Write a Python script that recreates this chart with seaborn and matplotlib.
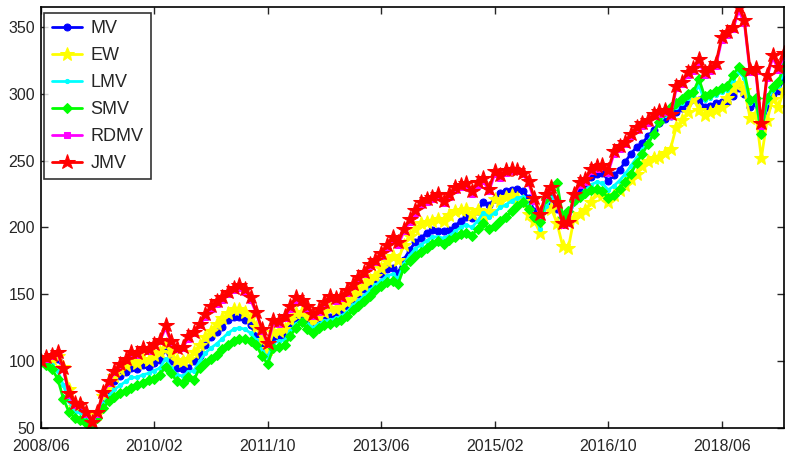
import numpy as np
import pandas as pd
import seaborn as sns
import matplotlib
matplotlib.use("Agg")
import matplotlib.pyplot as plt

# tick labels on the date axis (one point per month, 2008/06 .. 2019/05)
tick_months = [0, 20, 40, 60, 80, 100, 120]
tick_labels = ["2008/06", "2010/02", "2011/10", "2013/06", "2015/02", "2016/10", "2018/06"]

mv = [100, 99, 100, 102, 95, 77, 65, 66, 60, 53, 59, 71, 77, 85, 89, 92, 95, 94, 97, 96,
      99, 101, 109, 100, 95, 94, 95, 100, 104, 112, 118, 122, 126, 131, 133, 133, 131, 127, 119, 112,
      108, 118, 119, 120, 127, 131, 133, 131, 128, 130, 132, 133, 135, 137, 141, 146, 150, 154, 157, 161,
      165, 169, 170, 166, 176, 183, 189, 192, 196, 198, 197, 197, 198, 201, 205, 208, 207, 212, 219, 217,
      221, 226, 227, 228, 229, 227, 222, 212, 206, 218, 222, 214, 208, 206, 220, 228, 232, 238, 240, 241,
      235, 239, 243, 249, 255, 260, 263, 268, 273, 278, 281, 283, 286, 289, 293, 296, 295, 290, 291, 293,
      294, 294, 298, 304, 300, 290, 293, 270, 290, 300, 303, 311]

ew = [100, 100, 102, 104, 96, 79, 66, 68, 61, 54, 61, 74, 80, 89, 94, 97, 100, 99, 102, 101,
      105, 107, 113, 106, 101, 100, 102, 107, 112, 118, 123, 128, 132, 136, 139, 139, 137, 133, 126, 116,
      109, 122, 123, 124, 131, 136, 137, 134, 130, 134, 137, 140, 139, 141, 144, 149, 153, 157, 161, 164,
      170, 175, 179, 176, 187, 194, 199, 203, 204, 205, 206, 205, 209, 212, 213, 214, 210, 213, 209, 212,
      221, 220, 223, 224, 222, 220, 210, 205, 196, 215, 214, 203, 186, 185, 207, 210, 213, 219, 226, 224,
      219, 224, 228, 232, 236, 240, 246, 250, 252, 253, 256, 259, 275, 280, 286, 296, 288, 284, 286, 288,
      290, 297, 304, 308, 303, 282, 285, 252, 280, 296, 290, 303]

lmv = [100, 98, 97, 93, 82, 70, 62, 62, 58, 52, 59, 68, 74, 79, 82, 85, 88, 88, 90, 91,
       93, 95, 102, 95, 90, 89, 92, 93, 100, 106, 110, 113, 117, 121, 124, 125, 124, 121, 116, 108,
       103, 114, 115, 116, 123, 128, 131, 128, 125, 128, 130, 131, 132, 134, 137, 142, 145, 149, 153, 157,
       160, 164, 165, 162, 173, 179, 184, 187, 190, 193, 193, 192, 194, 197, 200, 202, 200, 205, 211, 208,
       211, 215, 217, 220, 222, 223, 217, 209, 199, 216, 222, 220, 205, 207, 219, 224, 228, 232, 234, 233,
       228, 231, 235, 240, 246, 252, 258, 264, 271, 278, 284, 287, 290, 293, 297, 299, 306, 295, 297, 299,
       301, 303, 310, 316, 312, 293, 295, 270, 294, 303, 306, 316]

smv = [100, 97, 94, 87, 72, 62, 58, 56, 54, 50, 58, 65, 70, 73, 76, 78, 80, 82, 84, 86,
       87, 90, 96, 91, 85, 84, 88, 86, 95, 99, 102, 105, 109, 112, 115, 117, 117, 115, 112, 104,
       98, 110, 111, 112, 119, 125, 129, 124, 121, 125, 127, 128, 129, 131, 134, 138, 141, 145, 149, 153,
       156, 159, 160, 158, 170, 175, 179, 182, 185, 188, 190, 188, 191, 193, 195, 196, 194, 199, 203, 199,
       201, 205, 208, 212, 216, 219, 214, 208, 204, 222, 228, 233, 208, 212, 220, 223, 226, 228, 229, 227,
       222, 224, 229, 234, 240, 248, 255, 262, 270, 279, 287, 290, 293, 296, 300, 301, 311, 298, 300, 302,
       304, 306, 314, 320, 316, 295, 297, 270, 297, 305, 309, 321]

rdmv = [100, 102, 104, 106, 94, 75, 67, 67, 61, 55, 61, 76, 84, 92, 97, 101, 106, 105, 109, 108,
        112, 115, 125, 114, 109, 110, 117, 121, 127, 133, 139, 143, 146, 150, 153, 155, 152, 146, 136, 123,
        113, 129, 128, 132, 139, 146, 144, 139, 134, 137, 142, 147, 145, 147, 151, 156, 161, 165, 171, 174,
        179, 185, 191, 187, 197, 204, 211, 217, 219, 221, 223, 218, 223, 228, 230, 231, 225, 232, 235, 227,
        240, 237, 241, 242, 242, 240, 233, 220, 209, 224, 229, 218, 202, 203, 224, 232, 234, 242, 244, 245,
        241, 255, 259, 262, 268, 273, 276, 278, 283, 285, 286, 283, 304, 307, 314, 317, 324, 314, 317, 321,
        340, 344, 348, 362, 353, 316, 317, 276, 312, 327, 318, 328]

jmv = [100, 103, 105, 107, 95, 76, 69, 68, 62, 55, 62, 77, 85, 93, 98, 102, 107, 106, 110, 109,
       113, 116, 127, 115, 110, 111, 119, 122, 128, 135, 141, 145, 148, 152, 155, 157, 154, 148, 137, 124,
       114, 131, 130, 134, 141, 148, 146, 141, 135, 139, 144, 149, 147, 149, 153, 158, 163, 167, 173, 176,
       181, 187, 193, 189, 199, 206, 213, 219, 221, 223, 225, 220, 225, 230, 232, 233, 227, 234, 237, 229,
       242, 239, 243, 244, 243, 241, 235, 222, 210, 225, 230, 219, 203, 204, 225, 234, 236, 244, 246, 247,
       243, 257, 261, 264, 270, 275, 278, 280, 285, 287, 288, 285, 306, 309, 316, 319, 326, 316, 319, 323,
       342, 346, 350, 365, 355, 318, 319, 278, 314, 329, 320, 330]

series = ["MV", "EW", "LMV", "SMV", "RDMV", "JMV"]
values = [mv, ew, lmv, smv, rdmv, jmv]
colors = ["#0000ff", "#ffff00", "#00ffff", "#00ff00", "#ff00ff", "#ff0000"]
markers = ["o", "*", ".", "D", "s", "*"]
msizes = [5, 10, 6, 5, 5, 11.5]

months = np.arange(len(jmv))

sns.set_style("ticks")
plt.rcParams["font.family"] = ["Liberation Sans", "DejaVu Sans"]

fig = plt.figure(figsize=(7.9, 4.58), dpi=100)
ax = fig.add_axes([0.0515, 0.065, 0.941, 0.9205])

for name, vals, c, mk, ms in zip(series, values, colors, markers, msizes):
    sns.lineplot(x=months, y=vals, ax=ax, color=c, marker=mk, markersize=ms,
                 markeredgecolor=c, markerfacecolor=c, linewidth=2, label=name)

all_vals = np.concatenate([np.asarray(v, dtype=float) for v in values])
ax.set_xlim(0, len(jmv) - 1)
ax.set_ylim(all_vals.min(), all_vals.max())
ax.set_xticks(tick_months)
ax.set_xticklabels(tick_labels)
ax.set_yticks([50, 100, 150, 200, 250, 300, 350])
ax.tick_params(direction="in", top=True, right=True, labelsize=11.5, length=5, width=1)
ax.tick_params(axis="x", pad=8)
ax.tick_params(axis="y", pad=4)
for sp in ax.spines.values():
    sp.set_linewidth(1.2)
    sp.set_color("black")

leg = ax.legend(loc="upper left", bbox_to_anchor=(0.005, 0.985), fontsize=13, frameon=True,
                fancybox=False, edgecolor="black", handlelength=1.7, labelspacing=0.55,
                borderpad=0.4, handletextpad=0.45, borderaxespad=0)
leg.get_frame().set_linewidth(1.2)

fig.savefig("out.png", dpi=100)
